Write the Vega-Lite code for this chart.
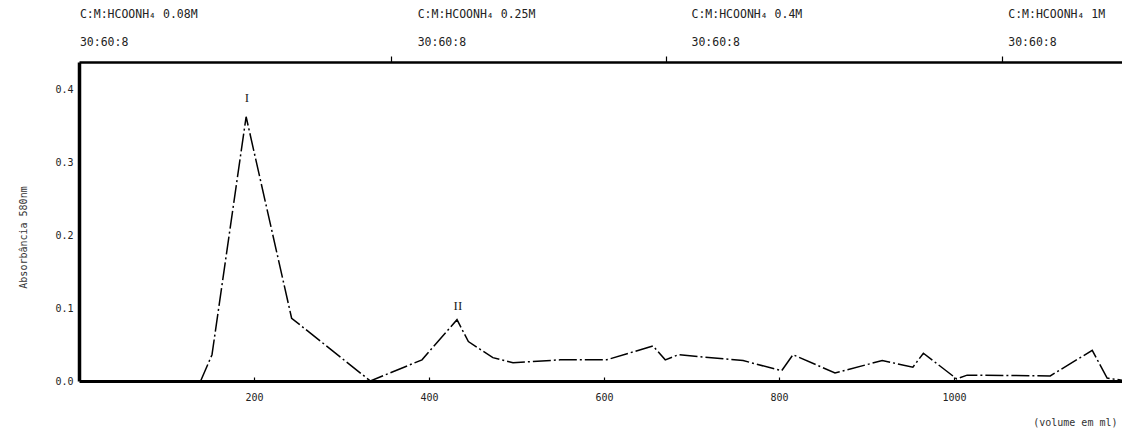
{
  "$schema": "https://vega.github.io/schema/vega-lite/v6.json",
  "width": 1043,
  "height": 319,
  "autosize": {"type": "none"},
  "padding": {"left": 79, "top": 62, "right": 0, "bottom": 47},
  "background": "white",
  "config": {
    "view": {"stroke": null},
    "font": "DejaVu Sans Mono",
    "axis": {"labelFont": "DejaVu Sans Mono", "titleFont": "DejaVu Sans Mono", "labelColor": "#222", "titleColor": "#333", "titleFontWeight": "normal", "domainColor": "black", "tickColor": "black", "grid": false}
  },
  "datasets": {
    "curve": [
      {"vol": 139, "abs": 0.0},
      {"vol": 152, "abs": 0.036},
      {"vol": 191, "abs": 0.362},
      {"vol": 243, "abs": 0.086},
      {"vol": 333, "abs": 0.0},
      {"vol": 392, "abs": 0.029},
      {"vol": 432, "abs": 0.084},
      {"vol": 445, "abs": 0.054},
      {"vol": 473, "abs": 0.032},
      {"vol": 496, "abs": 0.025},
      {"vol": 550, "abs": 0.029},
      {"vol": 603, "abs": 0.029},
      {"vol": 656, "abs": 0.048},
      {"vol": 670, "abs": 0.029},
      {"vol": 685, "abs": 0.036},
      {"vol": 759, "abs": 0.028},
      {"vol": 803, "abs": 0.014},
      {"vol": 816, "abs": 0.036},
      {"vol": 864, "abs": 0.011},
      {"vol": 918, "abs": 0.028},
      {"vol": 953, "abs": 0.019},
      {"vol": 965, "abs": 0.038},
      {"vol": 1003, "abs": 0.003},
      {"vol": 1015, "abs": 0.008},
      {"vol": 1110, "abs": 0.007},
      {"vol": 1158, "abs": 0.042},
      {"vol": 1175, "abs": 0.004},
      {"vol": 1192, "abs": 0.001}
    ],
    "peaks": [
      {"vol": 192, "abs": 0.378, "label": "I"},
      {"vol": 433, "abs": 0.093, "label": "II"}
    ],
    "solvents": [
      {"vol": 1, "line1": "C:M:HCOONH₄  0.08M", "line2": "30:60:8"},
      {"vol": 387, "line1": "C:M:HCOONH₄ 0.25M", "line2": "30:60:8"},
      {"vol": 700, "line1": "C:M:HCOONH₄ 0.4M", "line2": "30:60:8"},
      {"vol": 1062, "line1": "C:M:HCOONH₄ 1M", "line2": "30:60:8"}
    ]
  },
  "layer": [
    {
      "data": {"name": "curve"},
      "mark": {"type": "line", "color": "black", "strokeWidth": 1.5, "strokeDash": [18, 3, 2, 3], "clip": true},
      "encoding": {
        "x": {"field": "vol", "type": "quantitative", "scale": {"domain": [0, 1192], "nice": false, "zero": false},
          "axis": {"orient": "bottom", "values": [200, 400, 600, 800, 1000], "format": "d", "domainWidth": 3, "tickSize": -4, "tickWidth": 1.2, "labelPadding": 15, "labelFontSize": 10,
            "title": "(volume em ml)", "titleFontSize": 10, "titleAnchor": "end", "titleAlign": "right", "titleBaseline": "middle", "titleX": 1038, "titleY": 41}},
        "y": {"field": "abs", "type": "quantitative", "scale": {"domain": [0, 0.437], "nice": false},
          "axis": {"values": [0, 0.1, 0.2, 0.3, 0.4], "format": ".1f", "domainWidth": 3.5, "ticks": false, "labelPadding": 6, "labelFontSize": 10,
            "title": "Absorbância 580nm", "titleFontSize": 10, "titlePadding": 26, "titleY": 175}}
      }
    },
    {
      "data": {"name": "peaks"},
      "mark": {"type": "text", "font": "Liberation Serif", "fontSize": 13, "color": "#222", "baseline": "bottom"},
      "encoding": {
        "x": {"field": "vol", "type": "quantitative", "axis": null},
        "y": {"field": "abs", "type": "quantitative"},
        "text": {"field": "label"}
      }
    },
    {
      "data": {"name": "solvents"},
      "mark": {"type": "text", "font": "DejaVu Sans Mono", "fontSize": 11.5, "color": "#222", "align": "left", "baseline": "middle", "dy": -47},
      "encoding": {
        "x": {"field": "vol", "type": "quantitative",
          "axis": {"orient": "top", "values": [357, 671, 1055], "labels": false, "domainWidth": 2.5, "tickSize": 6, "tickWidth": 1.2, "title": null}},
        "y": {"datum": 0.437, "type": "quantitative"},
        "text": {"field": "line1"}
      }
    },
    {
      "data": {"name": "solvents"},
      "mark": {"type": "text", "font": "DejaVu Sans Mono", "fontSize": 11.5, "color": "#222", "align": "left", "baseline": "middle", "dy": -19},
      "encoding": {
        "x": {"field": "vol", "type": "quantitative", "axis": null},
        "y": {"datum": 0.437, "type": "quantitative"},
        "text": {"field": "line2"}
      }
    }
  ],
  "resolve": {"axis": {"x": "independent"}}
}
